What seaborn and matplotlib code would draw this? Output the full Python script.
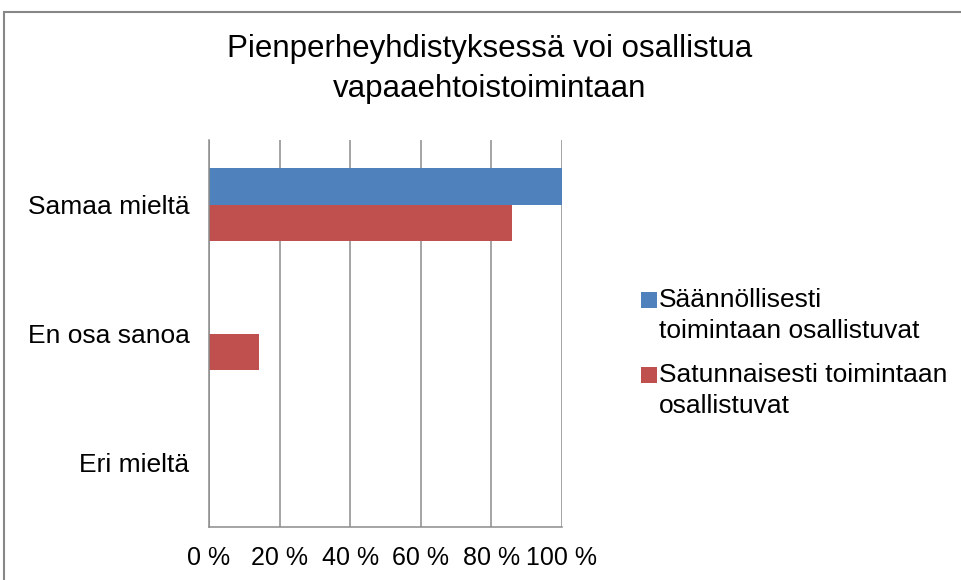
import matplotlib
matplotlib.use("Agg")
import matplotlib.pyplot as plt
import seaborn as sns
import pandas as pd
from matplotlib.patches import Rectangle

categories = ["Samaa mieltä", "En osa sanoa", "Eri mieltä"]
series_names = ["Säännöllisesti\ntoimintaan osallistuvat",
                "Satunnaisesti toimintaan\nosallistuvat"]
regular_values = [100.0, 0.0, 0.0]
occasional_values = [85.7, 14.3, 0.0]
tick_values = [0, 20, 40, 60, 80, 100]
tick_labels = ["0 %", "20 %", "40 %", "60 %", "80 %", "100 %"]
title_text = "Pienperheyhdistyksessä voi osallistua\nvapaaehtoistoimintaan"
colors = ["#4F81BD", "#C0504D"]

df = pd.DataFrame({
    "category": categories * 2,
    "series": [series_names[0]] * 3 + [series_names[1]] * 3,
    "value": regular_values + occasional_values,
})

sns.set_theme(style="white")
plt.rcParams["font.family"] = ["Liberation Sans", "DejaVu Sans"]
plt.rcParams["text.color"] = "black"
plt.rcParams["xtick.color"] = "black"
plt.rcParams["ytick.color"] = "black"

fig = plt.figure(figsize=(9.61, 5.80), dpi=100)
fig.patch.set_facecolor("white")
ax = fig.add_axes([209 / 961, 1 - 527 / 580, (562 - 209) / 961, (527 - 140) / 580])

sns.barplot(data=df, y="category", x="value", hue="series", order=categories,
            hue_order=series_names, palette=colors, orient="h", width=0.56,
            linewidth=0, saturation=1, ax=ax, legend=False)

ax.set_xlim(0, 100)
ax.set_xticks(tick_values)
ax.set_xticklabels(tick_labels, fontsize=18, color="black")
ax.tick_params(axis="x", length=0, pad=14, labelcolor="black")
ax.tick_params(axis="y", length=0, pad=14, labelsize=19, labelcolor="black")
ax.set_xlabel("")
ax.set_ylabel("")
ax.xaxis.grid(True, color="#8c8c8c", linewidth=1.1)
ax.set_axisbelow(True)
for side in ["top", "right"]:
    ax.spines[side].set_visible(False)
for side in ["left", "bottom"]:
    ax.spines[side].set_color("#8c8c8c")
    ax.spines[side].set_linewidth(1.1)

fig.text(490 / 961, 1 - 69 / 580, title_text, ha="center", va="center",
         fontsize=22.5, linespacing=1.4, color="black")

# legend
leg_tops = [288, 363]
for name, col, top in zip(series_names, colors, leg_tops):
    fig.patches.append(Rectangle((641 / 961, 1 - (top + 20) / 580), 16 / 961, 16 / 580,
                                 transform=fig.transFigure, facecolor=col,
                                 edgecolor="none"))
    fig.text(659 / 961, 1 - top / 580, name, ha="left", va="top",
             fontsize=19, linespacing=1.35, color="black")

# chart border
fig.patches.append(Rectangle((4 / 961, -0.05), 1.1, 1 - 12 / 580 + 0.05,
                             transform=fig.transFigure, fill=False,
                             edgecolor="#878787", linewidth=1.5, clip_on=False))

fig.savefig("out.png", dpi=100)
